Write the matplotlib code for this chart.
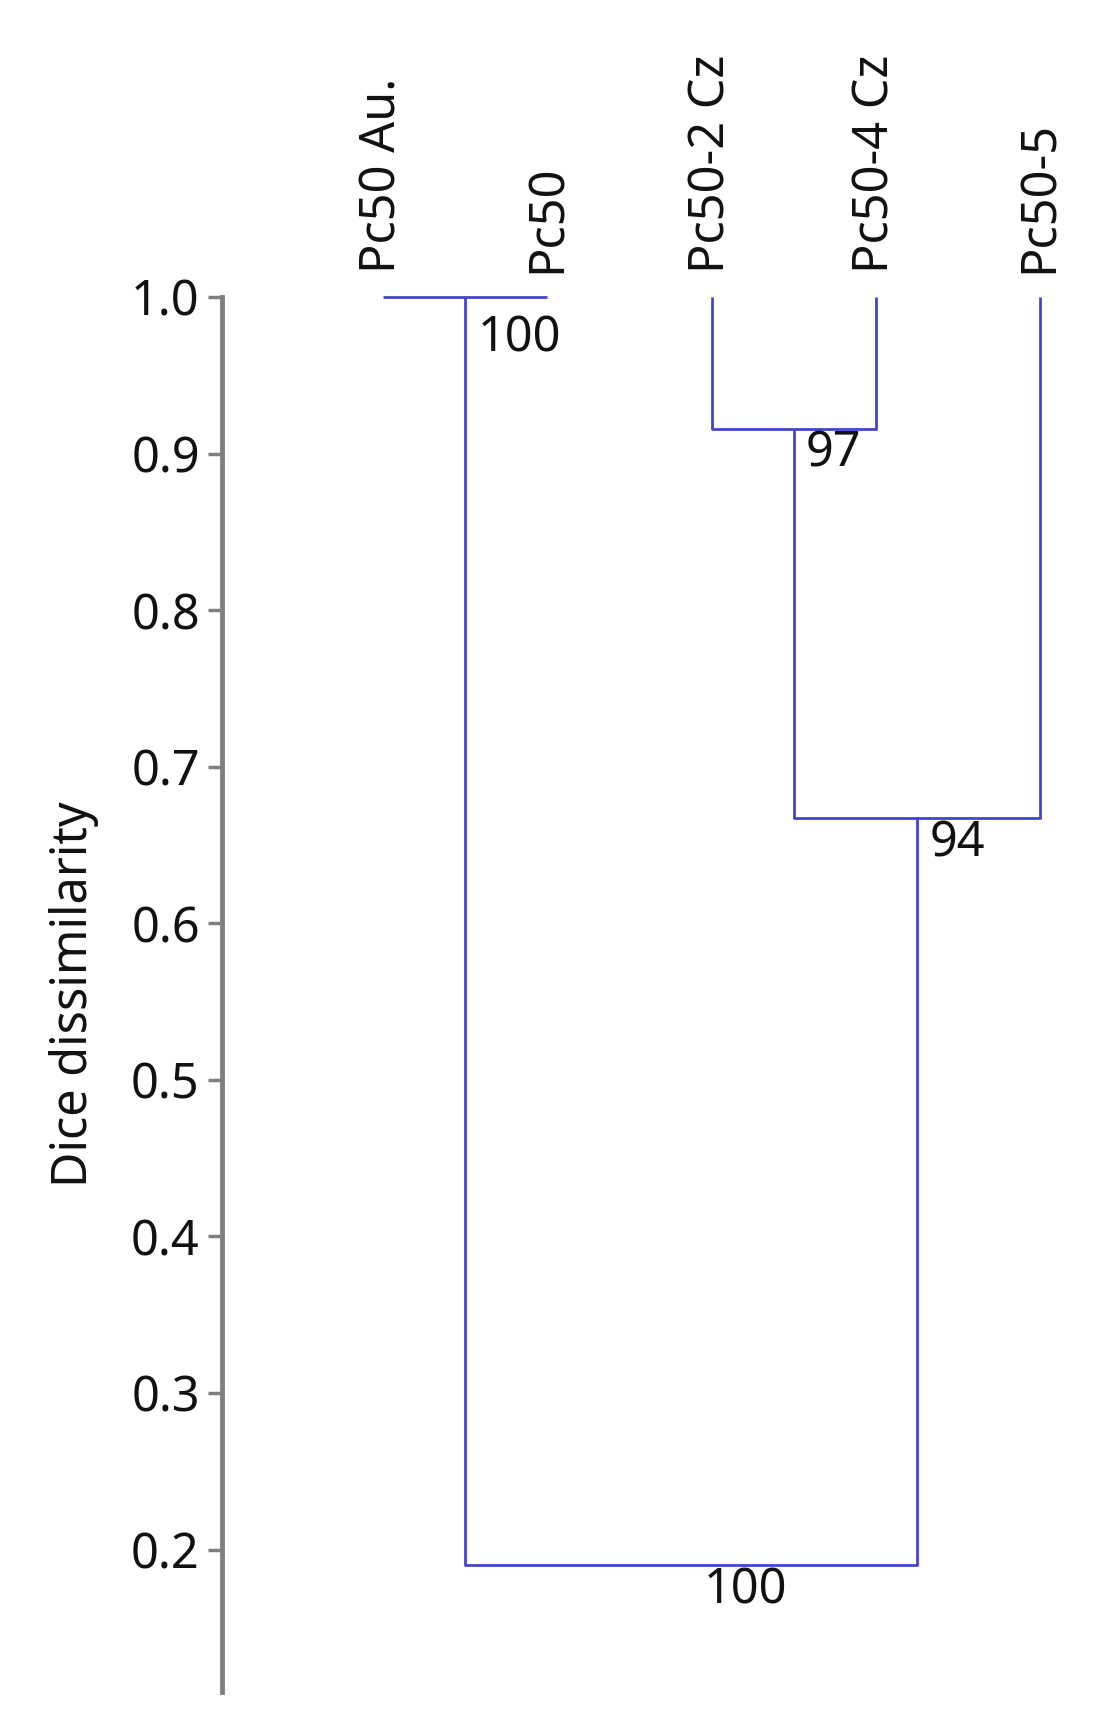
import matplotlib
matplotlib.use("Agg")
import matplotlib.pyplot as plt

plt.rcParams['font.family'] = ['Noto Sans', 'DejaVu Sans']

# ---- data ----
leaves = ["Pc50 Au.", "Pc50", "Pc50-2 Cz", "Pc50-4 Cz", "Pc50-5"]
leaf_height = 1.0
# merges: (left child, right child, height, support); children index leaves (0..4) or previous merges (5..)
merge_left = [0, 2, 6, 5]
merge_right = [1, 3, 4, 7]
merge_height = [1.0, 0.916, 0.667, 0.19]
merge_support = [100, 97, 94, 100]
yticks = [0.2, 0.3, 0.4, 0.5, 0.6, 0.7, 0.8, 0.9, 1.0]
ylabel = "Dice dissimilarity"

W, H = 1110, 1717
fig = plt.figure(figsize=(W / 100, H / 100), dpi=100)
ax = fig.add_axes([222 / W, 1 - 1692 / H, (W - 222) / W, (1692 - 297) / H])

color = "#4444cc"
lw = 2.0
fs = 35

# node positions
xpos = {i: float(i) for i in range(len(leaves))}
ypos = {i: leaf_height for i in range(len(leaves))}
n = len(leaves)
for k, (a, b, h, s) in enumerate(zip(merge_left, merge_right, merge_height, merge_support)):
    xa, xb = xpos[a], xpos[b]
    ya, yb = ypos[a], ypos[b]
    ax.plot([xa, xa, xb, xb], [ya, h, h, yb], color=color, lw=lw,
            solid_capstyle='butt', clip_on=False)
    xm = (xa + xb) / 2
    xpos[n + k] = xm
    ypos[n + k] = h
    dy = -12 if h >= 0.999 else 0
    ax.annotate(str(s), (xm, h), xytext=(9, dy), textcoords='offset points',
                ha='left', va='top', fontsize=fs, color='#111111')

for i, name in enumerate(leaves):
    ax.annotate(name, (xpos[i], leaf_height), xytext=(0, 17), textcoords='offset points',
                ha='center', va='bottom', rotation=90, fontsize=fs, color='#111111')

ax.set_xlim((222 - 383) / 164.25, (W - 383) / 164.25)
ax.set_ylim(0.109, 1.0)
ax.set_yticks(yticks)
ax.set_yticklabels([f"{t:.1f}" for t in yticks])
ax.tick_params(axis='y', direction='out', length=10, width=2.5, color='#808080',
               labelsize=fs, pad=6, labelcolor='#111111')
ax.set_xticks([])
for side in ['top', 'right', 'bottom']:
    ax.spines[side].set_visible(False)
ax.spines['left'].set_color('#808080')
ax.spines['left'].set_linewidth(3.5)
ax.patch.set_alpha(0)

fig.text(74 / W, 1 - 994 / H, ylabel, rotation=90, ha='center', va='center',
         fontsize=fs, color='#111111')

fig.savefig("out.png", dpi=100, facecolor='white')
